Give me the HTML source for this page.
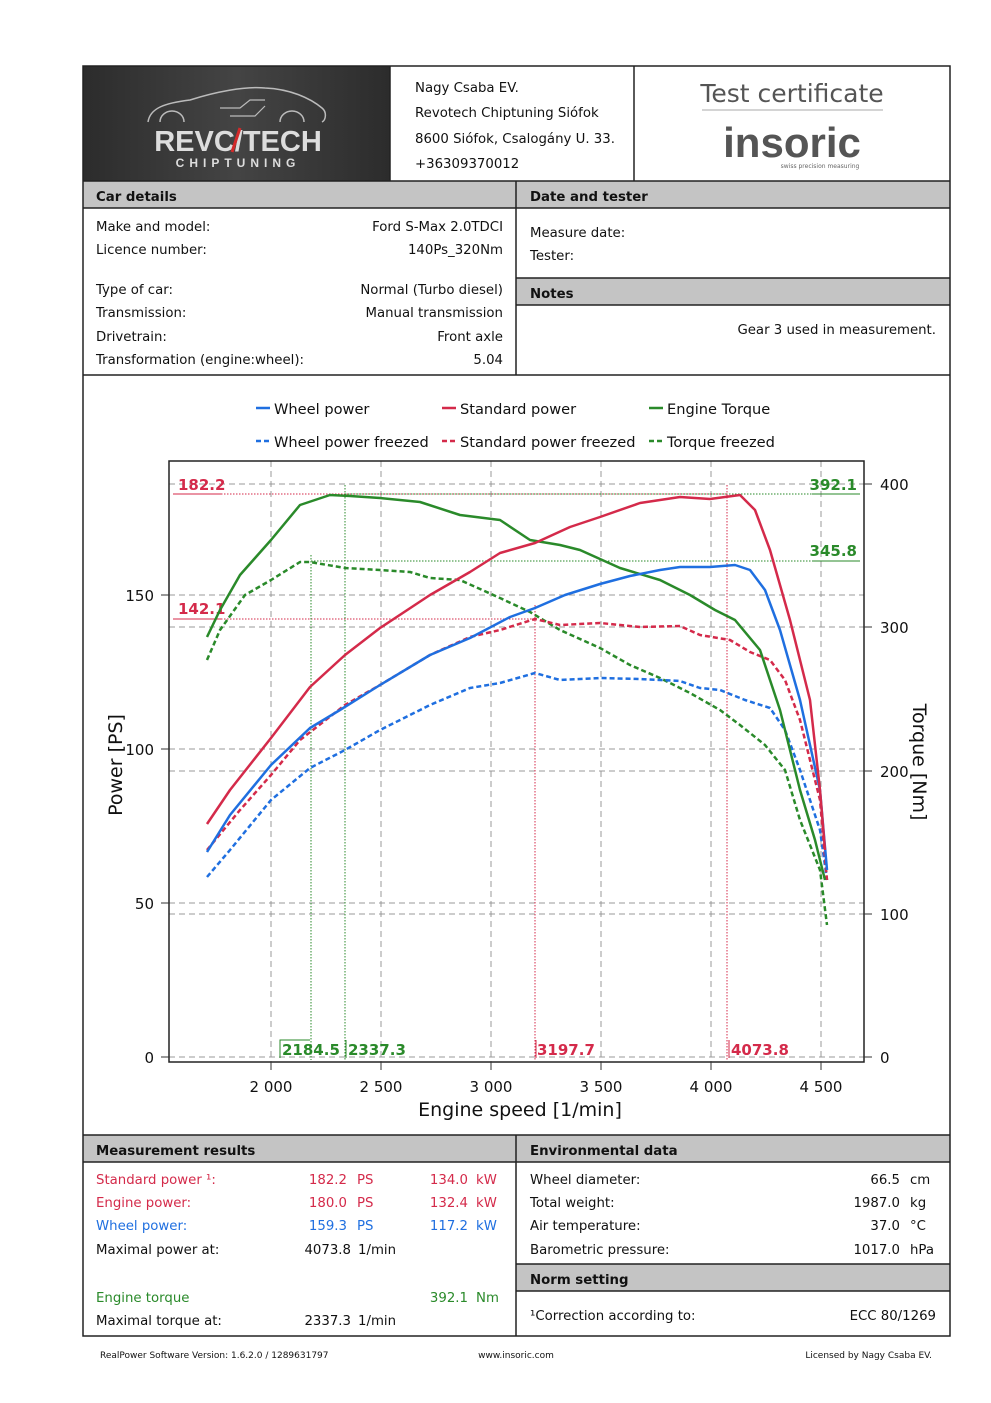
<!DOCTYPE html>
<html><head><meta charset="utf-8"><style>
html,body{margin:0;padding:0;background:#fff}
svg{display:block}
text{font-family:"DejaVu Sans","Liberation Sans",sans-serif;font-size:13.3px;fill:#111}
.b{font-weight:bold}
.r{fill:#d42a4a}.bl{fill:#1f6fe0}.g{fill:#2a8a2a}
.e{text-anchor:end}.m{text-anchor:middle}
</style></head><body>
<svg width="991" height="1403" viewBox="0 0 991 1403" xmlns="http://www.w3.org/2000/svg">
<defs><linearGradient id="lg" x1="0" y1="0" x2="1" y2="0"><stop offset="0" stop-color="#2c2c2c"/><stop offset="0.5" stop-color="#444"/><stop offset="1" stop-color="#2c2c2c"/></linearGradient></defs>
<rect x="83" y="66" width="307" height="115" fill="url(#lg)"/>
<path d="M148,122 C150,108 165,103 190,100 C215,92 245,86 265,88 C290,89 310,98 322,108 C327,112 326,120 322,122" fill="none" stroke="#bbb" stroke-width="1.5"/>
<path d="M160,122 a12,11 0 0 1 24,0 M280,122 a12,11 0 0 1 24,0" fill="none" stroke="#bbb" stroke-width="1.5"/>
<path d="M220,108 l20,0 l10,-8 l15,0 M230,116 l25,0 l10,-10" fill="none" stroke="#bbb" stroke-width="1.2"/>
<text x="238" y="151" class="b m" style="font-size:29px;fill:#ddd;font-family:'Liberation Sans',sans-serif">REVC/TECH</text>
<path d="M240,128 l-8,24" stroke="#d42a2a" stroke-width="3"/>
<text x="238" y="167" class="b m" style="font-size:12px;fill:#ddd;letter-spacing:5px;font-family:'Liberation Sans',sans-serif">CHIPTUNING</text>
<text x="415" y="92">Nagy Csaba EV.</text>
<text x="415" y="117">Revotech Chiptuning Siófok</text>
<text x="415" y="143">8600 Siófok, Csalogány U. 33.</text>
<text x="415" y="168">+36309370012</text>
<text x="792" y="102" class="m" style="font-size:25px;fill:#555">Test certificate</text>
<line x1="702" y1="110" x2="883" y2="110" stroke="#aaa"/>
<text x="792" y="157" class="m b" style="font-size:42px;fill:#555;font-family:'Liberation Sans',sans-serif">insoric</text>
<text x="820" y="168" class="m" style="font-size:6px;fill:#666">swiss precision measuring</text>
<g fill="#c4c4c4"><rect x="83" y="181" width="867" height="27"/><rect x="516" y="278" width="434" height="27"/><rect x="83" y="1135" width="867" height="27"/><rect x="516" y="1264" width="434" height="27"/></g>
<g stroke="#222" stroke-width="1.5" fill="none">
<rect x="83" y="66" width="867" height="1270"/>
<line x1="390" y1="66" x2="390" y2="181"/><line x1="634" y1="66" x2="634" y2="181"/>
<line x1="83" y1="181" x2="950" y2="181"/><line x1="83" y1="208" x2="950" y2="208"/>
<line x1="516" y1="181" x2="516" y2="375"/><line x1="516" y1="278" x2="950" y2="278"/><line x1="516" y1="305" x2="950" y2="305"/>
<line x1="83" y1="375" x2="950" y2="375"/>
<line x1="83" y1="1135" x2="950" y2="1135"/><line x1="83" y1="1162" x2="950" y2="1162"/>
<line x1="516" y1="1135" x2="516" y2="1336"/><line x1="516" y1="1264" x2="950" y2="1264"/><line x1="516" y1="1291" x2="950" y2="1291"/>
</g>
<text x="96" y="201" class="b">Car details</text><text x="530" y="201" class="b">Date and tester</text><text x="530" y="298" class="b">Notes</text>
<text x="96" y="1155" class="b">Measurement results</text><text x="530" y="1155" class="b">Environmental data</text><text x="530" y="1284" class="b">Norm setting</text>
<text x="96" y="231">Make and model:</text><text x="503" y="231" class="e">Ford S-Max 2.0TDCI</text>
<text x="96" y="254">Licence number:</text><text x="503" y="254" class="e">140Ps_320Nm</text>
<text x="96" y="294">Type of car:</text><text x="503" y="294" class="e">Normal (Turbo diesel)</text>
<text x="96" y="317">Transmission:</text><text x="503" y="317" class="e">Manual transmission</text>
<text x="96" y="341">Drivetrain:</text><text x="503" y="341" class="e">Front axle</text>
<text x="96" y="364">Transformation (engine:wheel):</text><text x="503" y="364" class="e">5.04</text>
<text x="530" y="237">Measure date:</text><text x="530" y="260">Tester:</text>
<text x="936" y="334" class="e">Gear 3 used in measurement.</text>
<text x="96" y="1184" class="r">Standard power ¹:</text><text x="347" y="1184" class="e r">182.2</text><text x="357" y="1184" class="r">PS</text><text x="468" y="1184" class="e r">134.0</text><text x="476" y="1184" class="r">kW</text>
<text x="96" y="1207" class="r">Engine power:</text><text x="347" y="1207" class="e r">180.0</text><text x="357" y="1207" class="r">PS</text><text x="468" y="1207" class="e r">132.4</text><text x="476" y="1207" class="r">kW</text>
<text x="96" y="1230" class="bl">Wheel power:</text><text x="347" y="1230" class="e bl">159.3</text><text x="357" y="1230" class="bl">PS</text><text x="468" y="1230" class="e bl">117.2</text><text x="476" y="1230" class="bl">kW</text>
<text x="96" y="1254">Maximal power at:</text><text x="351" y="1254" class="e">4073.8</text><text x="358" y="1254">1/min</text>
<text x="96" y="1302" class="g">Engine torque</text><text x="468" y="1302" class="e g">392.1</text><text x="476" y="1302" class="g">Nm</text>
<text x="96" y="1325">Maximal torque at:</text><text x="351" y="1325" class="e">2337.3</text><text x="358" y="1325">1/min</text>
<text x="530" y="1184">Wheel diameter:</text><text x="900" y="1184" class="e">66.5</text><text x="910" y="1184">cm</text>
<text x="530" y="1207">Total weight:</text><text x="900" y="1207" class="e">1987.0</text><text x="910" y="1207">kg</text>
<text x="530" y="1230">Air temperature:</text><text x="900" y="1230" class="e">37.0</text><text x="910" y="1230">°C</text>
<text x="530" y="1254">Barometric pressure:</text><text x="900" y="1254" class="e">1017.0</text><text x="910" y="1254">hPa</text>
<text x="530" y="1320">¹Correction according to:</text><text x="936" y="1320" class="e">ECC 80/1269</text>
<text x="100" y="1358" style="font-size:9px">RealPower Software Version: 1.6.2.0 / 1289631797</text>
<text x="516" y="1358" class="m" style="font-size:9px">www.insoric.com</text>
<text x="932" y="1358" class="e" style="font-size:9px">Licensed by Nagy Csaba EV.</text>
<g stroke-width="2.5">
<line x1="256" y1="408" x2="270" y2="408" stroke="#1f6fe0"/><line x1="442" y1="408" x2="456" y2="408" stroke="#d42a4a"/><line x1="649" y1="408" x2="663" y2="408" stroke="#2a8a2a"/>
<line x1="256" y1="441" x2="270" y2="441" stroke="#1f6fe0" stroke-dasharray="5,3"/><line x1="442" y1="441" x2="456" y2="441" stroke="#d42a4a" stroke-dasharray="5,3"/><line x1="649" y1="441" x2="663" y2="441" stroke="#2a8a2a" stroke-dasharray="5,3"/>
</g>
<text x="274" y="414" style="font-size:14.6px">Wheel power</text><text x="460" y="414" style="font-size:14.6px">Standard power</text><text x="667" y="414" style="font-size:14.6px">Engine Torque</text>
<text x="274" y="447" style="font-size:14.6px">Wheel power freezed</text><text x="460" y="447" style="font-size:14.6px">Standard power freezed</text><text x="667" y="447" style="font-size:14.6px">Torque freezed</text>
<g stroke="#999" stroke-dasharray="6,4" stroke-width="1">
<line x1="271" y1="461" x2="271" y2="1062"/><line x1="381" y1="461" x2="381" y2="1062"/><line x1="491" y1="461" x2="491" y2="1062"/><line x1="601" y1="461" x2="601" y2="1062"/><line x1="711" y1="461" x2="711" y2="1062"/><line x1="821" y1="461" x2="821" y2="1062"/>
<line x1="169" y1="595" x2="864" y2="595"/><line x1="169" y1="749" x2="864" y2="749"/><line x1="169" y1="903" x2="864" y2="903"/><line x1="169" y1="1057" x2="864" y2="1057"/>
<line x1="169" y1="484" x2="864" y2="484"/><line x1="169" y1="627" x2="864" y2="627"/><line x1="169" y1="771" x2="864" y2="771"/><line x1="169" y1="914" x2="864" y2="914"/>
</g>
<rect x="169" y="461" width="695" height="601" fill="none" stroke="#222" stroke-width="1.5"/>
<g stroke="#333" stroke-width="1">
<line x1="271" y1="1062" x2="271" y2="1070"/><line x1="381" y1="1062" x2="381" y2="1070"/><line x1="491" y1="1062" x2="491" y2="1070"/><line x1="601" y1="1062" x2="601" y2="1070"/><line x1="711" y1="1062" x2="711" y2="1070"/><line x1="821" y1="1062" x2="821" y2="1070"/>
<line x1="161" y1="595" x2="169" y2="595"/><line x1="161" y1="749" x2="169" y2="749"/><line x1="161" y1="903" x2="169" y2="903"/><line x1="161" y1="1057" x2="169" y2="1057"/>
<line x1="864" y1="484" x2="872" y2="484"/><line x1="864" y1="627" x2="872" y2="627"/><line x1="864" y1="771" x2="872" y2="771"/><line x1="864" y1="914" x2="872" y2="914"/><line x1="864" y1="1057" x2="872" y2="1057"/>
</g>
<text x="271" y="1092" class="m" style="font-size:15px">2 000</text><text x="381" y="1092" class="m" style="font-size:15px">2 500</text><text x="491" y="1092" class="m" style="font-size:15px">3 000</text><text x="601" y="1092" class="m" style="font-size:15px">3 500</text><text x="711" y="1092" class="m" style="font-size:15px">4 000</text><text x="821" y="1092" class="m" style="font-size:15px">4 500</text>
<text x="154" y="601" class="e" style="font-size:15px">150</text><text x="154" y="755" class="e" style="font-size:15px">100</text><text x="154" y="909" class="e" style="font-size:15px">50</text><text x="154" y="1063" class="e" style="font-size:15px">0</text>
<text x="880" y="490" style="font-size:15px">400</text><text x="880" y="633" style="font-size:15px">300</text><text x="880" y="777" style="font-size:15px">200</text><text x="880" y="920" style="font-size:15px">100</text><text x="880" y="1063" style="font-size:15px">0</text>
<text x="520" y="1116" class="m" style="font-size:19px">Engine speed [1/min]</text>
<text transform="translate(122,765) rotate(-90)" class="m" style="font-size:19px">Power [PS]</text>
<text transform="translate(913,762) rotate(90)" class="m" style="font-size:19px">Torque [Nm]</text>
<g stroke-width="1" stroke-dasharray="1.5,1.5">
<line x1="173" y1="494" x2="727" y2="494" stroke="#d42a4a"/><line x1="173" y1="619" x2="535" y2="619" stroke="#d42a4a"/>
<line x1="345" y1="494" x2="860" y2="494" stroke="#2a8a2a"/><line x1="311" y1="561" x2="860" y2="561" stroke="#2a8a2a"/>
<line x1="311" y1="555" x2="311" y2="1060" stroke="#2a8a2a"/><line x1="345" y1="485" x2="345" y2="1060" stroke="#2a8a2a"/>
<line x1="535" y1="605" x2="535" y2="1060" stroke="#d42a4a"/><line x1="727" y1="485" x2="727" y2="1060" stroke="#d42a4a"/>
</g>
<g stroke-width="1"><line x1="173" y1="494" x2="222" y2="494" stroke="#d42a4a"/><line x1="173" y1="619" x2="222" y2="619" stroke="#d42a4a"/><line x1="812" y1="494" x2="860" y2="494" stroke="#2a8a2a"/><line x1="812" y1="561" x2="860" y2="561" stroke="#2a8a2a"/>
<polyline points="280,1058 280,1040 310,1040" fill="none" stroke="#2a8a2a"/><line x1="346" y1="1040" x2="346" y2="1058" stroke="#2a8a2a"/><line x1="536" y1="1040" x2="536" y2="1058" stroke="#d42a4a"/><line x1="729" y1="1040" x2="729" y2="1058" stroke="#d42a4a"/></g>
<text x="178" y="490" class="b r" style="font-size:15px">182.2</text><text x="178" y="614" class="b r" style="font-size:15px">142.1</text>
<text x="857" y="490" class="b g e" style="font-size:15px">392.1</text><text x="857" y="556" class="b g e" style="font-size:15px">345.8</text>
<text x="282" y="1055" class="b g" style="font-size:15px">2184.5</text><text x="348" y="1055" class="b g" style="font-size:15px">2337.3</text>
<text x="537" y="1055" class="b r" style="font-size:15px">3197.7</text><text x="731" y="1055" class="b r" style="font-size:15px">4073.8</text>
<g fill="none" stroke-width="2.5" stroke-linejoin="round">
<polyline stroke="#2a8a2a" stroke-dasharray="5,3" points="207,660 220,630 245,595 271,580 300,562 310,562 345,568 380,570 410,572 430,578 460,580 500,598 530,612 560,630 600,648 630,665 660,678 690,693 720,710 740,725 765,745 785,770 800,820 820,870 827,925"/>
<polyline stroke="#1f6fe0" stroke-dasharray="5,3" points="207,877 230,850 271,800 310,768 345,750 380,730 430,705 470,688 500,683 535,673 560,680 600,678 640,679 680,681 700,688 720,690 745,700 770,708 785,730 800,770 820,830 827,880"/>
<polyline stroke="#d42a4a" stroke-dasharray="5,3" points="207,850 240,810 271,775 300,740 345,705 380,685 430,655 470,637 500,630 535,619 560,625 600,623 640,627 680,626 700,635 730,640 750,652 770,660 785,680 800,720 820,800 827,880"/>
<polyline stroke="#2a8a2a" points="207,637 220,610 240,575 271,540 300,505 330,495 350,496 380,498 420,502 460,515 500,520 530,540 560,545 580,550 620,568 660,580 690,595 715,610 735,620 760,650 780,710 800,790 815,840 825,880"/>
<polyline stroke="#1f6fe0" points="207,852 230,815 271,765 310,728 340,710 380,685 430,655 470,638 510,617 535,608 565,595 600,584 630,576 660,570 680,567 710,567 735,565 750,570 765,590 780,630 800,700 820,790 827,870"/>
<polyline stroke="#d42a4a" points="207,824 230,790 271,738 310,687 345,655 380,628 430,595 470,572 500,553 535,543 570,527 600,517 640,503 680,497 710,499 740,495 755,510 770,550 790,620 810,700 820,790 825,850"/>
</g>
</svg>
</body></html>
